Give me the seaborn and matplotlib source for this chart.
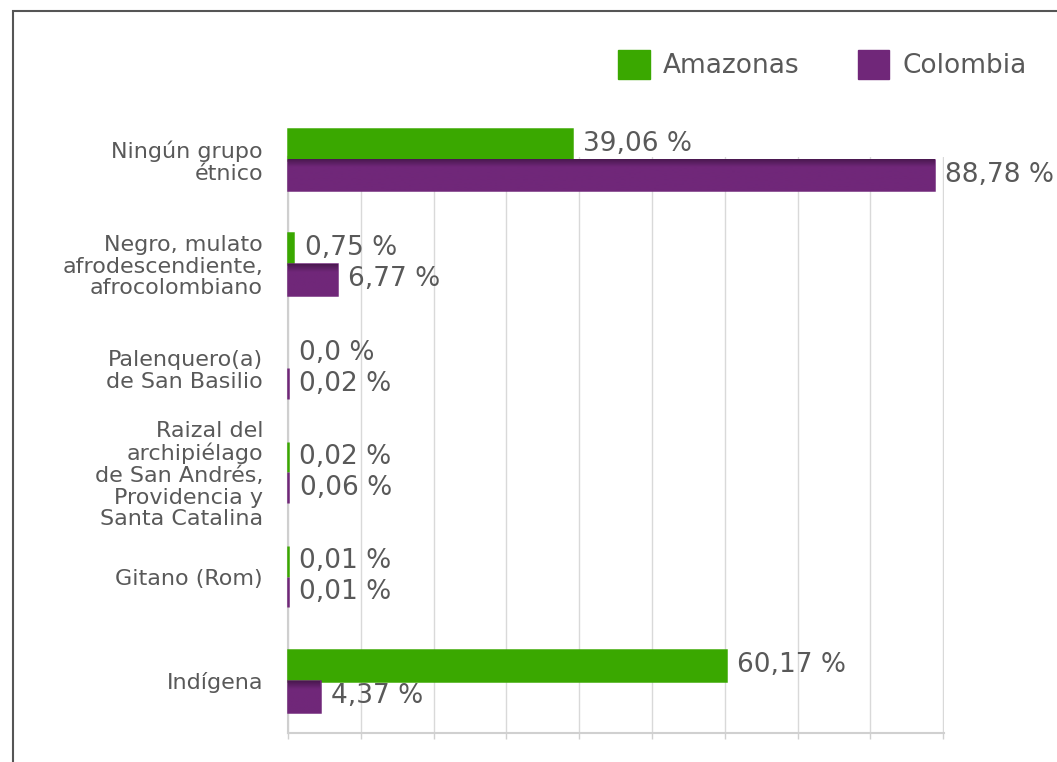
import matplotlib
matplotlib.use("Agg")
import matplotlib.pyplot as plt
import seaborn as sns
import pandas as pd
import numpy as np
from matplotlib.patches import Rectangle
from matplotlib.colors import LinearSegmentedColormap

categories = [
    "Ningún grupo\nétnico",
    "Negro, mulato\nafrodescendiente,\nafrocolombiano",
    "Palenquero(a)\nde San Basilio",
    "Raizal del\narchipiélago\nde San Andrés,\nProvidencia y\nSanta Catalina",
    "Gitano (Rom)",
    "Indígena",
]
amazonas = [39.06, 0.75, 0.0, 0.02, 0.01, 60.17]
colombia = [88.78, 6.77, 0.02, 0.06, 0.01, 4.37]
amazonas_labels = ["39,06 %", "0,75 %", "0,0 %", "0,02 %", "0,01 %", "60,17 %"]
colombia_labels = ["88,78 %", "6,77 %", "0,02 %", "0,06 %", "0,01 %", "4,37 %"]
series = ["Amazonas", "Colombia"]

GREEN = "#3aa800"
PURPLE = "#702779"
PURPLE_DARK = "#4a1850"
TXT = "#595959"

df = pd.DataFrame({
    "cat": categories * 2,
    "val": amazonas + colombia,
    "serie": [series[0]] * len(categories) + [series[1]] * len(categories),
})

sns.set_theme(style="white")
plt.rcParams["font.family"] = ["DejaVu Sans"]

W, H = 1057, 762
ax_left, ax_right, ax_bottom_px, ax_top_px = 288, 943, 733, 157
fig = plt.figure(figsize=(W / 100, H / 100), dpi=100)
ax = fig.add_axes([ax_left / W, 1 - ax_bottom_px / H,
                   (ax_right - ax_left + 1) / W, (ax_bottom_px - ax_top_px) / H])

sns.barplot(data=df, y="cat", x="val", hue="serie", order=categories,
            hue_order=series, palette=[GREEN, PURPLE], width=0.59,
            orient="h", ax=ax, legend=False, saturation=1)

# minimum visible width for tiny non-zero bars
for p in ax.patches:
    w = p.get_width()
    p.set_zorder(3)
    p.set_clip_on(False)
    if w > 0:
        p.set_edgecolor(p.get_facecolor())
        p.set_linewidth(1.8)
    else:
        p.set_linewidth(0)

n = len(categories)
cat_px = (ax_bottom_px - 107.5) / n
ylim = (n - 0.5, n - 0.5 - (ax_bottom_px - ax_top_px) / cat_px)

# subtle dark top shading on the Colombia bars
cmap = LinearSegmentedColormap.from_list("pg", [PURPLE_DARK, PURPLE, PURPLE, PURPLE, PURPLE])
grad = np.linspace(0, 1, 60).reshape(-1, 1)
for p in ax.containers[1]:
    x0, y0, w, h = p.get_x(), p.get_y(), p.get_width(), p.get_height()
    if w > 0.5:
        im = ax.imshow(grad, cmap=cmap, aspect="auto", zorder=3.5,
                       extent=(x0, x0 + w, y0 + h, y0), interpolation="bilinear")
        im.set_clip_on(False)

ax.set_xlim(0, 90.12)
ax.set_ylim(*ylim)
ax.set_xticks(range(0, 91, 10))
ax.set_xticklabels([])
ax.set_xlabel("")
ax.set_ylabel("")
ax.grid(axis="x", color="#d9d9d9", linewidth=1)
ax.set_axisbelow(True)
for s in ["top", "right"]:
    ax.spines[s].set_visible(False)
ax.spines["left"].set_color("#cfcfcf")
ax.spines["bottom"].set_color("#d0d0d0")
ax.spines["left"].set_linewidth(1.5)
ax.spines["bottom"].set_linewidth(1.5)
ax.spines["left"].set_zorder(2)
ax.tick_params(axis="x", bottom=True, length=4, color="#d0d0d0", width=1)
ax.tick_params(axis="y", left=False, length=0, pad=18, labelsize=16, labelcolor=TXT)
for t in ax.get_yticklabels():
    t.set_horizontalalignment("right")
    t.set_multialignment("right")
    t.set_linespacing(1.1)

# value labels
for cont, labels in zip(ax.containers, [amazonas_labels, colombia_labels]):
    texts = ax.bar_label(cont, labels=labels, padding=8, fontsize=19, color=TXT, zorder=5)
    for t in texts:
        t.set_annotation_clip(False)
        t.set_clip_on(False)

# legend
handles = [Rectangle((0, 0), 1, 1, color=GREEN), Rectangle((0, 0), 1, 1, color=PURPLE)]
fig.legend(handles, series, loc="upper right", bbox_to_anchor=(1040 / W, 1 - 37 / H),
           ncol=2, frameon=False, fontsize=19, labelcolor=TXT, borderpad=0,
           handlelength=1.2, handleheight=1.3, columnspacing=2.2, handletextpad=0.5)

# outer frame
fig.patches.append(Rectangle((13 / W, -0.1), 1.1, 1 - 11 / H + 0.1,
                             transform=fig.transFigure, fill=False,
                             edgecolor="#555555", linewidth=1.5))

fig.savefig("out.png", dpi=100)
